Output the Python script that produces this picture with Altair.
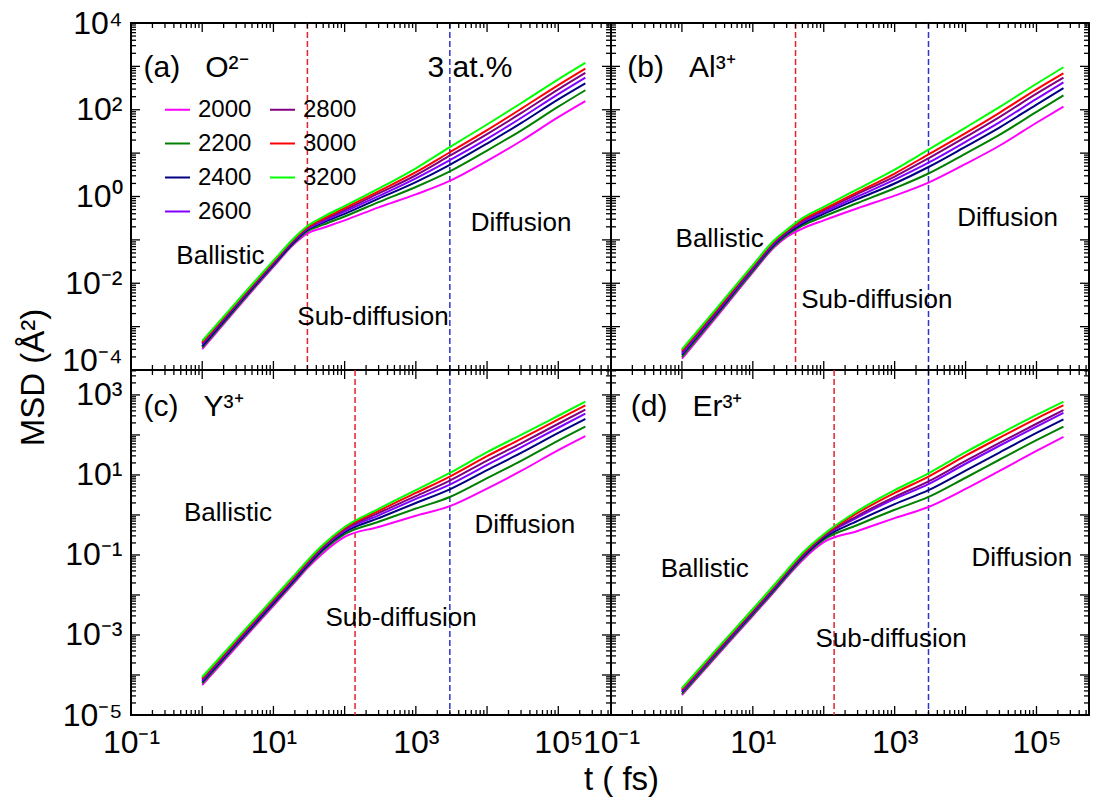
import math
import altair as alt
import pandas as pd

FONT = "Liberation Sans"

# ---------------- data ----------------
temps = ["2000", "2200", "2400", "2600", "2800", "3000", "3200"]
temp_colors = ["#FF00FF", "#008000", "#000080", "#8000FF", "#800080", "#FF0000", "#00FF00"]

t_fs = [1, 3, 10, 20, 30, 50, 100, 300, 1000, 3000, 1e4, 3e4, 1e5, 2.4e5]

# log10(MSD / A^2)
log_msd_a = {
    "2000": [-3.52, -2.60, -1.62, -1.08, -0.85, -0.72, -0.55, -0.25, 0.05, 0.36, 0.82, 1.28, 1.83, 2.20],
    "2200": [-3.48, -2.57, -1.59, -1.05, -0.80, -0.65, -0.46, -0.13, 0.22, 0.58, 1.06, 1.52, 2.07, 2.45],
    "2400": [-3.45, -2.54, -1.57, -1.03, -0.77, -0.60, -0.40, -0.05, 0.33, 0.73, 1.22, 1.69, 2.24, 2.61],
    "2600": [-3.41, -2.51, -1.54, -1.00, -0.75, -0.57, -0.35, 0.01, 0.42, 0.84, 1.33, 1.81, 2.36, 2.74],
    "2800": [-3.38, -2.49, -1.52, -0.98, -0.72, -0.54, -0.31, 0.07, 0.49, 0.94, 1.44, 1.92, 2.47, 2.85],
    "3000": [-3.36, -2.46, -1.50, -0.96, -0.71, -0.51, -0.27, 0.12, 0.56, 1.02, 1.53, 2.02, 2.57, 2.95],
    "3200": [-3.33, -2.44, -1.48, -0.94, -0.68, -0.47, -0.22, 0.18, 0.65, 1.14, 1.66, 2.15, 2.70, 3.08],
}
log_msd_b = {
    "2000": [-3.74, -2.80, -1.75, -1.17, -0.93, -0.74, -0.55, -0.27, 0.02, 0.32, 0.75, 1.17, 1.70, 2.07],
    "2200": [-3.70, -2.76, -1.72, -1.14, -0.89, -0.67, -0.46, -0.15, 0.19, 0.53, 0.99, 1.42, 1.95, 2.33],
    "2400": [-3.65, -2.72, -1.68, -1.11, -0.86, -0.63, -0.40, -0.06, 0.30, 0.68, 1.15, 1.59, 2.12, 2.50],
    "2600": [-3.62, -2.69, -1.66, -1.08, -0.83, -0.59, -0.36, 0.00, 0.39, 0.78, 1.26, 1.71, 2.25, 2.63],
    "2800": [-3.58, -2.66, -1.63, -1.05, -0.81, -0.56, -0.32, 0.06, 0.46, 0.88, 1.37, 1.83, 2.37, 2.74],
    "3000": [-3.55, -2.63, -1.60, -1.03, -0.79, -0.54, -0.29, 0.10, 0.53, 0.97, 1.46, 1.93, 2.47, 2.84],
    "3200": [-3.52, -2.60, -1.58, -1.01, -0.77, -0.50, -0.24, 0.17, 0.62, 1.08, 1.59, 2.06, 2.60, 2.98],
}
log_msd_c = {
    "2000": [-4.25, -3.30, -2.27, -1.68, -1.33, -0.95, -0.55, -0.30, -0.02, 0.22, 0.66, 1.10, 1.62, 1.97],
    "2200": [-4.21, -3.26, -2.23, -1.64, -1.29, -0.89, -0.48, -0.17, 0.16, 0.45, 0.92, 1.35, 1.86, 2.21],
    "2400": [-4.17, -3.23, -2.20, -1.61, -1.26, -0.85, -0.43, -0.08, 0.30, 0.64, 1.12, 1.55, 2.05, 2.40],
    "2600": [-4.14, -3.19, -2.16, -1.57, -1.22, -0.81, -0.39, -0.01, 0.40, 0.76, 1.25, 1.69, 2.18, 2.53],
    "2800": [-4.11, -3.16, -2.13, -1.54, -1.19, -0.79, -0.36, 0.05, 0.47, 0.86, 1.36, 1.79, 2.28, 2.63],
    "3000": [-4.08, -3.14, -2.11, -1.52, -1.17, -0.76, -0.33, 0.10, 0.55, 0.96, 1.47, 1.90, 2.39, 2.74],
    "3200": [-4.05, -3.11, -2.08, -1.49, -1.14, -0.74, -0.30, 0.15, 0.62, 1.05, 1.57, 2.00, 2.48, 2.83],
}
log_msd_d = {
    "2000": [-4.50, -3.55, -2.52, -1.92, -1.56, -1.13, -0.68, -0.40, -0.08, 0.20, 0.65, 1.10, 1.60, 1.95],
    "2200": [-4.47, -3.52, -2.49, -1.89, -1.53, -1.09, -0.62, -0.25, 0.13, 0.45, 0.93, 1.38, 1.87, 2.21],
    "2400": [-4.43, -3.48, -2.45, -1.85, -1.49, -1.06, -0.58, -0.15, 0.27, 0.62, 1.11, 1.56, 2.05, 2.39],
    "2600": [-4.41, -3.46, -2.43, -1.83, -1.46, -1.03, -0.54, -0.06, 0.40, 0.77, 1.28, 1.73, 2.21, 2.55],
    "2800": [-4.38, -3.43, -2.40, -1.80, -1.44, -1.00, -0.53, -0.02, 0.45, 0.84, 1.35, 1.80, 2.28, 2.62],
    "3000": [-4.35, -3.40, -2.37, -1.77, -1.41, -0.98, -0.50, 0.05, 0.55, 0.96, 1.48, 1.93, 2.41, 2.74],
    "3200": [-4.33, -3.38, -2.35, -1.75, -1.39, -0.95, -0.48, 0.10, 0.62, 1.04, 1.57, 2.02, 2.50, 2.83],
}

red_line_t = {"a": 30, "b": 40, "c": 140, "d": 140}
blue_line_t = {"a": 3000, "b": 3000, "c": 3000, "d": 3000}

NB = "\u00a0\u00a0\u00a0"
panel_titles = {"a": "(a)" + NB + "O\u00b2\u207b", "b": "(b)" + NB + "Al\u00b3\u207a",
                "c": "(c)" + NB + "Y\u00b3\u207a", "d": "(d)" + NB + "Er\u00b3\u207a"}
# annotation anchors in data units (t, log10 MSD)
title_pos = {"a": (0.15, 2.96), "b": (0.17, 2.96), "c": (0.15, 2.70), "d": (0.19, 2.70)}
regime_names = ["Ballistic", "Sub-diffusion", "Diffusion"]
regime_pos = {
    "a": [(1.8, -1.38), (250, -2.77), (3.0e4, -0.62)],
    "b": [(3.4, -0.99), (560, -2.38), (3.9e4, -0.50)],
    "c": [(2.3, 0.05), (620, -2.58), (3.4e4, -0.25)],
    "d": [(2.1, -1.35), (890, -3.10), (6.2e4, -1.08)],
}
extra_text = ("3 at.%", 10 ** 3.76, 2.96)

x_domain = [0.1, 5.5e5]
y_domain_top = [1e-4, 1e4]
y_domain_bottom = [1e-5, 4.2e3]
x_label_exps = [-1, 1, 3, 5]
y_label_exps_top = [4, 2, 0, -2, -4]
y_label_exps_bottom = [3, 1, -1, -3, -5]

SUP = {"-": "\u207b", "0": "\u2070", "1": "\u00b9", "2": "\u00b2", "3": "\u00b3",
       "4": "\u2074", "5": "\u2075"}


def sup_label(e):
    return "10" + "".join(SUP[c] for c in str(e))


def label_expr(exps):
    exps = sorted(exps)
    expr = f"'{sup_label(exps[-1])}'"
    for e in reversed(exps[:-1]):
        expr = f"datum.value < {3 * 10.0 ** e:g} ? '{sup_label(e)}' : ({expr})"
    return expr


def decade_ticks(lo, hi):
    majors, minors = [], []
    e0, e1 = math.floor(math.log10(lo)), math.ceil(math.log10(hi))
    for e in range(e0, e1 + 1):
        for k in range(1, 10):
            v = k * 10.0 ** e
            if lo * 0.999 <= v <= hi * 1.001:
                (majors if k == 1 else minors).append(v)
    return majors, minors


TITLE_STYLE = dict(titleFont=FONT, titleFontSize=33, titleFontWeight="normal", titleColor="black",
                   titleAlign="center", titleBaseline="middle")


def make_panel(key, data, ydom, w, h, show_y, show_x, yexps, legend, raise_low=False,
               xtitle=False, ytitle=False):
    xscale = alt.Scale(type="log", domain=x_domain, nice=False)
    yscale = alt.Scale(type="log", domain=ydom, nice=False)
    common = dict(ticks=False, domain=False, grid=False, labelFont=FONT,
                  labelFontSize=32, labelColor="black", labelOverlap=False,
                  labelFlush=False, labelBound=False)
    if xtitle:
        xt = dict(title="t ( fs)", titleX=490, titleY=64, titleAngle=0, **TITLE_STYLE)
    else:
        xt = dict(title=None)
    xaxis = alt.Axis(values=[10.0 ** e for e in x_label_exps], labelExpr=label_expr(x_label_exps),
                     labelPadding=12, **common, **xt) if show_x else None
    yextra = {}
    if raise_low:
        yextra["labelBaseline"] = {"condition": {"test": "datum.value < 2e-4", "value": "alphabetic"},
                                   "value": "middle"}
    if ytitle:
        yextra.update(dict(title="MSD (\u00c5\u00b2)", titleX=-98, titleY=354, titleAngle=270,
                           **TITLE_STYLE))
    else:
        yextra["title"] = None
    yaxis = alt.Axis(values=[10.0 ** e for e in yexps], labelExpr=label_expr(yexps),
                     labelPadding=9, **common, **yextra) if show_y else None
    X = lambda f: alt.X(f, scale=xscale, axis=xaxis)
    Y = lambda f: alt.Y(f, scale=yscale, axis=yaxis)

    rows = []
    for T in temps:
        for t, lm in zip(t_fs, data[T]):
            rows.append({"t": t, "m": 10.0 ** lm, "T": T})
    df = pd.DataFrame(rows)
    cscale = alt.Scale(domain=temps, range=temp_colors)
    lines = alt.Chart(df).mark_line(interpolate="monotone", strokeWidth=2).encode(
        x=X("t:Q"), y=Y("m:Q"), color=alt.Color("T:N", scale=cscale, legend=legend))

    vr = pd.DataFrame({"t": [red_line_t[key], blue_line_t[key]], "c": ["#E0242A", "#2B35C8"]})
    vrules = alt.Chart(vr).mark_rule(strokeDash=[6, 3], strokeWidth=1.5).encode(
        x=X("t:Q"), stroke=alt.Stroke("c:N", scale=None))

    # inward ticks on all four sides
    ppx = w / math.log10(x_domain[1] / x_domain[0])
    ppy = h / math.log10(ydom[1] / ydom[0])
    xmaj, xmin_ = decade_ticks(*x_domain)
    ymaj, ymin_ = decade_ticks(*ydom)
    hrows, vrows = [], []
    for vals, L in ((ymaj, 9), (ymin_, 5)):
        f = 10 ** (L / ppx)
        for v in vals:
            hrows.append({"t": x_domain[0], "t2": x_domain[0] * f, "m": v})
            hrows.append({"t": x_domain[1] / f, "t2": x_domain[1], "m": v})
    for vals, L in ((xmaj, 9), (xmin_, 5)):
        f = 10 ** (L / ppy)
        for v in vals:
            vrows.append({"t": v, "m": ydom[0], "m2": ydom[0] * f})
            vrows.append({"t": v, "m": ydom[1] / f, "m2": ydom[1]})
    hticks = alt.Chart(pd.DataFrame(hrows)).mark_rule(strokeWidth=1.3).encode(
        x=X("t:Q"), x2=alt.X2("t2"), y=Y("m:Q"), color=alt.value("black"))
    vticks = alt.Chart(pd.DataFrame(vrows)).mark_rule(strokeWidth=1.3).encode(
        x=X("t:Q"), y=Y("m:Q"), y2=alt.Y2("m2"), color=alt.value("black"))

    tt, tm = title_pos[key]
    tdf = pd.DataFrame({"t": [tt], "m": [10 ** tm], "label": [panel_titles[key]]})
    titles = alt.Chart(tdf).mark_text(font=FONT, fontSize=30, align="left", baseline="middle",
                                      color="black").encode(x=X("t:Q"), y=Y("m:Q"), text="label:N")
    nrows = [{"t": p[0], "m": 10 ** p[1], "label": n} for n, p in zip(regime_names, regime_pos[key])]
    notes = alt.Chart(pd.DataFrame(nrows)).mark_text(font=FONT, fontSize=26, align="center",
                                                     baseline="middle", color="black").encode(
        x=X("t:Q"), y=Y("m:Q"), text="label:N")
    layers = [vrules, lines, hticks, vticks, titles, notes]
    if key == "a":
        edf = pd.DataFrame({"t": [extra_text[1]], "m": [10 ** extra_text[2]], "label": [extra_text[0]]})
        layers.append(alt.Chart(edf).mark_text(font=FONT, fontSize=30, align="center",
                                               baseline="middle", color="black").encode(
            x=X("t:Q"), y=Y("m:Q"), text="label:N"))
    return alt.layer(*layers).properties(width=w, height=h)


legend = alt.Legend(orient="none", legendX=33, legendY=73, columns=2, title=None,
                    symbolType="stroke", symbolSize=625, symbolStrokeWidth=2,
                    labelFont=FONT, labelFontSize=24, labelColor="black",
                    rowPadding=8, columnPadding=14, labelOffset=7, padding=0)

pa = make_panel("a", log_msd_a, y_domain_top, 480, 347, True, False, y_label_exps_top, legend,
                raise_low=True, ytitle=True)
pb = make_panel("b", log_msd_b, y_domain_top, 478, 347, False, False, y_label_exps_top, None)
pc = make_panel("c", log_msd_c, y_domain_bottom, 480, 345, True, True, y_label_exps_bottom, None,
                xtitle=True)
pd_ = make_panel("d", log_msd_d, y_domain_bottom, 478, 345, False, True, y_label_exps_bottom, None)

chart = alt.concat(pa, pb, pc, pd_, columns=2, spacing=0, bounds="flush").properties(
    background="white",
    padding={"left": 16, "top": 6, "right": 5, "bottom": 5},
).configure_view(stroke="black", strokeWidth=2)

chart.save("out.html", embed_options={"renderer": "svg", "actions": False})
